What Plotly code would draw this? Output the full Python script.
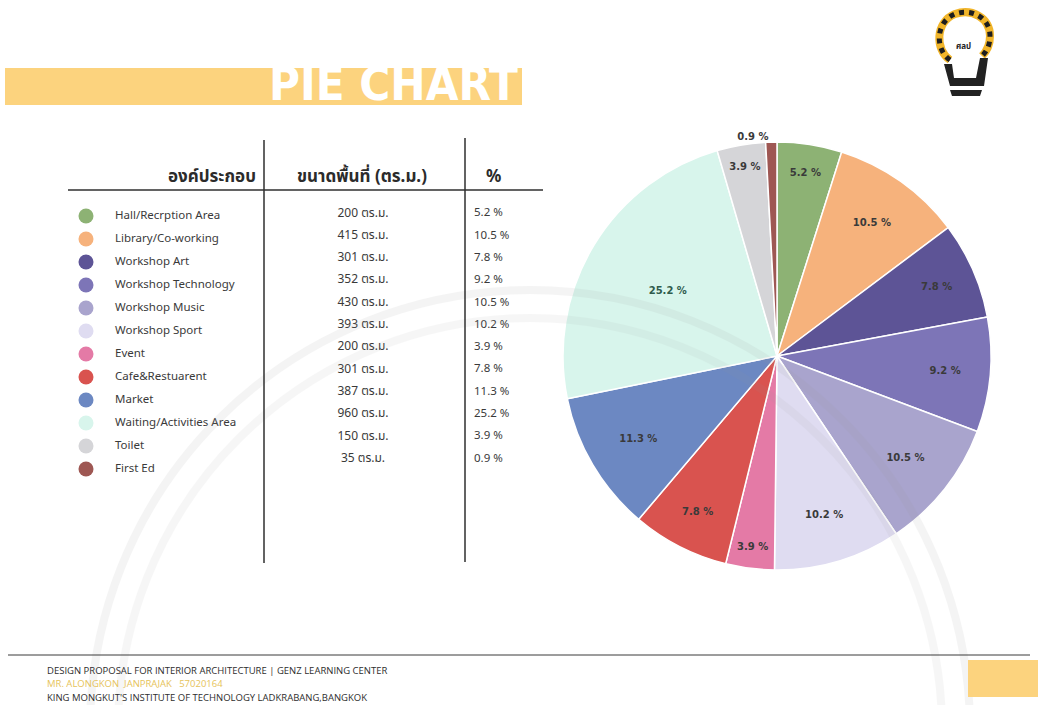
import plotly.graph_objects as go

# ---- data -------------------------------------------------------------
components = [
    "Hall/Recrption Area", "Library/Co-working", "Workshop Art",
    "Workshop Technology", "Workshop Music", "Workshop Sport", "Event",
    "Cafe&Restuarent", "Market", "Waiting/Activities Area", "Toilet", "First Ed",
]
areas_sqm = [200, 415, 301, 352, 430, 393, 200, 301, 387, 960, 150, 35]
percents = [5.2, 10.5, 7.8, 9.2, 10.5, 10.2, 3.9, 7.8, 11.3, 25.2, 3.9, 0.9]
colors = [
    "#8db274", "#f6b27c", "#5d5496", "#7d75b7", "#a9a4cd", "#dfdcf1",
    "#e47aa6", "#d9534f", "#6c88c2", "#d8f5ec", "#d5d5d8", "#9e5753",
]
header = ["องค์ประกอบ", "ขนาดพื้นที่ (ตร.ม.)", "%"]
unit = "ตร.ม."
footer_lines = [
    "DESIGN PROPOSAL FOR INTERIOR ARCHITECTURE | GENZ LEARNING CENTER",
    "MR. ALONGKON  JANPRAJAK   57020164",
    "KING MONGKUT'S INSTITUTE OF TECHNOLOGY LADKRABANG,BANGKOK",
]

W, H = 1038, 705
YELLOW = "#fcd37e"
TXT = "#3a3a3a"
FONT = "Noto Sans, Noto Sans Thai, DejaVu Sans, sans-serif"

fig = go.Figure()

# ---- pie --------------------------------------------------------------
cx, cy, r = 777, 356, 214
pie_text = [f"<b>{p} %</b>" for p in percents]
text_pos = ["outside" if p < 1 else "inside" for p in percents]
text_col = [TXT] * len(percents)
text_col[components.index("Waiting/Activities Area")] = "#2f5b4c"
fig.add_trace(go.Pie(
    labels=components, values=percents, text=pie_text,
    texttemplate="%{text}", textposition=text_pos,
    insidetextorientation="horizontal",
    textfont=dict(family="DejaVu Sans, sans-serif", size=10, color=text_col),
    outsidetextfont=dict(family="DejaVu Sans, sans-serif", size=10, color=TXT),
    marker=dict(colors=colors, line=dict(color="white", width=1.5)),
    sort=False, direction="clockwise", rotation=0, showlegend=False,
    hoverinfo="label+value",
    domain=dict(x=[(cx - r) / W, (cx + r) / W],
                y=[(H - cy - r) / H, (H - cy + r) / H]),
))

# ---- table: colour dots and columns -----------------------------------
row_y = [216 + 23 * i for i in range(len(components))]
val_y = [213.5 + 22.3 * i for i in range(len(components))]
fig.add_trace(go.Scatter(
    x=[86] * len(components), y=row_y, mode="markers",
    marker=dict(size=15, color=colors, line=dict(width=0)),
    hoverinfo="skip", showlegend=False,
))
fig.add_trace(go.Scatter(
    x=[115] * len(components), y=row_y, mode="text", text=components,
    textposition="middle right",
    textfont=dict(family=FONT, size=11.5, color=TXT),
    hoverinfo="skip", showlegend=False,
))
fig.add_trace(go.Scatter(
    x=[363] * len(components), y=val_y, mode="text",
    text=[f"{a} {unit}" for a in areas_sqm], textposition="middle center",
    textfont=dict(family=FONT, size=12, color=TXT),
    hoverinfo="skip", showlegend=False,
))
fig.add_trace(go.Scatter(
    x=[474] * len(components), y=val_y, mode="text",
    text=[f"{p} %" for p in percents], textposition="middle right",
    textfont=dict(family=FONT, size=11.5, color=TXT),
    hoverinfo="skip", showlegend=False,
))

annotations = [
    dict(x=258, y=175, text=f"<b>{header[0]}</b>", xanchor="right"),
    dict(x=362, y=175, text=f"<b>{header[1]}</b>", xanchor="center"),
    dict(x=493, y=175, text=f"<b>{header[2]}</b>", xanchor="center"),
]
for a in annotations:
    a.update(xref="x", yref="y", yanchor="middle", showarrow=False,
             font=dict(family=FONT, size=17, color="#2b2b2b"))

# ---- title band -------------------------------------------------------
annotations.append(dict(
    x=393, y=83, xref="x", yref="y", text="<b>PIE CHART</b>", showarrow=False,
    xanchor="center", yanchor="middle",
    font=dict(family="DejaVu Sans Condensed, DejaVu Sans, sans-serif",
              size=47, color="white"),
))

# ---- footer -----------------------------------------------------------
footer_colors = ["#2e2e2e", "#e6c35a", "#2e2e2e"]
for i, (line, col) in enumerate(zip(footer_lines, footer_colors)):
    annotations.append(dict(
        x=45, y=670 + 13.5 * i, xref="x", yref="y", text=line, showarrow=False,
        xanchor="left", yanchor="middle",
        font=dict(family="Open Sans, sans-serif", size=9.5, color=col),
    ))

# logo caption
annotations.append(dict(
    x=963, y=45, xref="x", yref="y", text="<b>ศลป</b>", showarrow=False,
    xanchor="center", yanchor="middle",
    font=dict(family=FONT, size=8, color="#222"),
))

shapes = []
# faint emblem rings in the background
for rad, op in [(440, 0.10), (412, 0.08)]:
    shapes.append(dict(type="circle", xref="x", yref="y",
                       x0=530 - rad, x1=530 + rad, y0=730 - rad, y1=730 + rad,
                       line=dict(color="#9a9a9a", width=8), opacity=op,
                       layer="above"))
# title band
shapes.append(dict(type="rect", xref="x", yref="y", x0=5, x1=522, y0=68, y1=105,
                   fillcolor=YELLOW, line=dict(width=0), layer="below"))
# table rules
rule = dict(color="#2f2f2f", width=1.5)
shapes += [
    dict(type="line", xref="x", yref="y", x0=68, x1=543, y0=190, y1=190, line=rule),
    dict(type="line", xref="x", yref="y", x0=264, x1=264, y0=140, y1=563, line=rule),
    dict(type="line", xref="x", yref="y", x0=465, x1=465, y0=138, y1=562, line=rule),
]
# footer rule and corner block
shapes += [
    dict(type="line", xref="x", yref="y", x0=8, x1=1030, y0=655, y1=655,
         line=dict(color="#3a3a3a", width=1)),
    dict(type="rect", xref="x", yref="y", x0=968, x1=1038, y0=660, y1=697,
         fillcolor=YELLOW, line=dict(width=0)),
]
# logo: bulb outline and stand
bulb = "M 950 60 C 935 50 935 22 955 14 C 972 8 990 18 990 36 C 990 46 986 52 982 56"
shapes += [
    dict(type="path", xref="x", yref="y", path=bulb,
         line=dict(color="#f1b52a", width=8)),
    dict(type="path", xref="x", yref="y", path=bulb,
         line=dict(color="#1e1e1e", width=5, dash="dot")),
    dict(type="path", xref="x", yref="y",
         path="M 944 64 L 952 64 L 954 78 L 976 78 L 980 58 L 988 58 L 984 86 L 950 86 Z "
              "M 950 90 L 982 90 L 980 96 L 952 96 Z",
         fillcolor="#222", line=dict(width=0)),
]

fig.update_layout(
    width=W, height=H, margin=dict(l=0, r=0, t=0, b=0),
    paper_bgcolor="white", plot_bgcolor="white",
    xaxis=dict(range=[0, W], visible=False, fixedrange=True),
    yaxis=dict(range=[H, 0], visible=False, fixedrange=True),
    shapes=shapes, annotations=annotations,
)

fig.write_html("out.html")
